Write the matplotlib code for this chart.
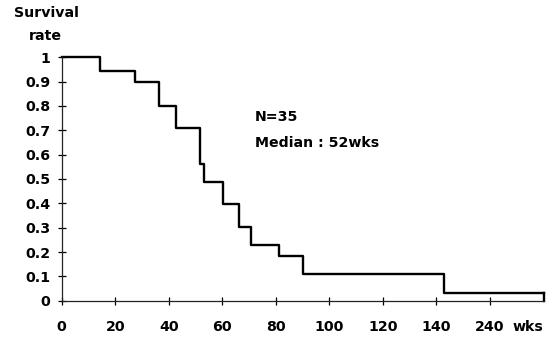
import matplotlib
matplotlib.use('Agg')
import matplotlib.pyplot as plt
from matplotlib.transforms import blended_transform_factory

# --- DATA ---
# step times in axis units; the axis is broken after 140 (tick at 160 is labelled 240 wks)
STEP_TIMES = [0, 14.3, 27.4, 36.3, 42.6, 51.7, 53.2, 60.2, 66.2, 70.6, 81.3, 90.3, 142.7, 180]
SURVIVAL   = [1.0, 0.945, 0.90, 0.80, 0.708, 0.56, 0.489, 0.396, 0.302, 0.229, 0.184, 0.108, 0.033, 0.033]
X_TICKS    = [0, 20, 40, 60, 80, 100, 120, 140, 160]
X_LABELS   = ["0", "20", "40", "60", "80", "100", "120", "140", "240"]
Y_TICKS    = [0, 0.1, 0.2, 0.3, 0.4, 0.5, 0.6, 0.7, 0.8, 0.9, 1.0]
Y_LABELS   = ["0", "0.1", "0.2", "0.3", "0.4", "0.5", "0.6", "0.7", "0.8", "0.9", "1"]

FONT = {'family': 'DejaVu Sans', 'weight': 'bold', 'size': 10.2}

W, H = 558, 339
fig = plt.figure(figsize=(W / 100, H / 100), dpi=100)
# axes box in pixel terms: x 61.7..543.5, y(1)=57.3, y(0)=300.7
ax = fig.add_axes([61.7 / W, (H - 300.7) / H, (543.5 - 61.7) / W, (300.7 - 57.3) / H])

# Kaplan-Meier style step curve
ax.step(STEP_TIMES, SURVIVAL, where='post', color='black', lw=1.7, clip_on=False)
# final drop to the axis at the right end
ax.plot([STEP_TIMES[-1], STEP_TIMES[-1]], [SURVIVAL[-1], 0], color='black', lw=1.7, clip_on=False)

ax.set_xlim(0, 180)
ax.set_ylim(0, 1)
ax.spines['top'].set_visible(False)
ax.spines['right'].set_visible(False)
for s in ('left', 'bottom'):
    ax.spines[s].set_linewidth(0.9)
    ax.spines[s].set_color('#222222')

ax.set_xticks(X_TICKS)
ax.set_xticklabels(X_LABELS, fontdict=FONT)
ax.set_yticks(Y_TICKS)
ax.set_yticklabels(Y_LABELS, fontdict=FONT)
ax.tick_params(axis='x', direction='inout', length=6, width=0.9, pad=11)
ax.tick_params(axis='y', direction='inout', length=6, width=0.9, pad=5)

# "wks" unit label sits in line with the x tick labels
trans = blended_transform_factory(ax.transData, ax.transAxes)
ax.annotate("wks", xy=(168.5, 0), xycoords=trans, xytext=(0, -19), textcoords='offset points',
            ha='left', va='center', annotation_clip=False, **FONT)

# y-axis title above the axis
fig.text(46 / W, 1 - 13 / H, "Survival", ha='center', va='center', fontdict=FONT)
fig.text(45.5 / W, 1 - 36 / H, "rate", ha='center', va='center', fontdict=FONT)

# annotation
fig.text(255 / W, 1 - 117 / H, "N=35", ha='left', va='center', fontdict=FONT)
fig.text(255 / W, 1 - 143 / H, "Median : 52wks", ha='left', va='center', fontdict=FONT)

fig.savefig("out.png", dpi=100)
